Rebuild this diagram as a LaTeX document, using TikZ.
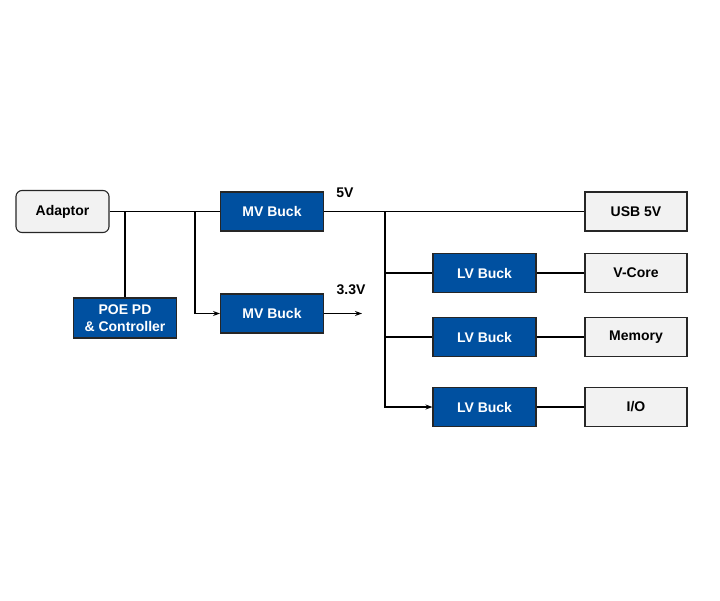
\documentclass[tikz,border=0pt]{standalone}
\usepackage{fontspec}
\setmainfont{Liberation Sans}
\usetikzlibrary{arrows.meta}
\definecolor{buckblue}{HTML}{0050A0}
\definecolor{loadgray}{HTML}{F2F2F2}
\tikzset{
  buck/.style={draw=black!85, fill=buckblue, text=white, line width=1.1pt, minimum width=103pt, minimum height=39pt, font=\bfseries\fontsize{14}{16}\selectfont, align=center, inner sep=1pt},
  load/.style={draw=black!85, fill=loadgray, text=black, line width=1.1pt, minimum width=102pt, minimum height=39pt, font=\bfseries\fontsize{14}{16}\selectfont},
  rail/.style={draw=black, line width=1.2pt},
  volt/.style={font=\bfseries\fontsize{14}{16}\selectfont}
}
\begin{document}
\begin{tikzpicture}[x=1pt, y=-1pt, >={Stealth[length=7pt, width=5pt]}]
\useasboundingbox (0,0) rectangle (720,600);
\node[load, rounded corners=6pt, minimum width=93pt, minimum height=42pt] (adaptor) at (62.5,211.5) {Adaptor};
\node[buck] (mvbuck5) at (272,211.5) {MV Buck};
\node[buck] (mvbuck33) at (272,313.5) {MV Buck};
\node[buck, minimum height=40pt] (poe) at (125,318) {POE PD\\[1pt]\& Controller};
\node[load] (usb) at (636,211.5) {USB 5V};
\node[buck] (lvcore) at (484.5,273) {LV Buck};
\node[load] (vcore) at (636,273) {V-Core};
\node[buck] (lvmem) at (484.5,337) {LV Buck};
\node[load] (memory) at (636,337) {Memory};
\node[buck] (lvio) at (484.5,407) {LV Buck};
\node[load] (io) at (636,407) {I/O};
\node[volt] (label5) at (345,193) {5V};
\node[volt] (label33) at (351,290) {3.3V};
\coordinate (tapPoe) at (125,211.5);
\coordinate (tapMv) at (195,211.5);
\coordinate (busTop) at (385,211.5);
\coordinate (out33) at (362,313.5);
% input side
\draw[rail] (adaptor.east) -- (mvbuck5.west);
\draw[rail] (tapPoe) -- (poe.north);
\draw[rail, ->] (tapMv) |- (mvbuck33.west);
\draw[rail, ->] (mvbuck33.east) -- (out33);
% 5V rail
\draw[rail] (mvbuck5.east) -- (usb.west);
\draw[rail] (busTop) |- (lvcore.west);
\draw[rail] (busTop) |- (lvmem.west);
\draw[rail, ->] (busTop) |- (lvio.west);
\draw[rail] (lvcore) -- (vcore);
\draw[rail] (lvmem) -- (memory);
\draw[rail] (lvio) -- (io);
\end{tikzpicture}
\end{document}
